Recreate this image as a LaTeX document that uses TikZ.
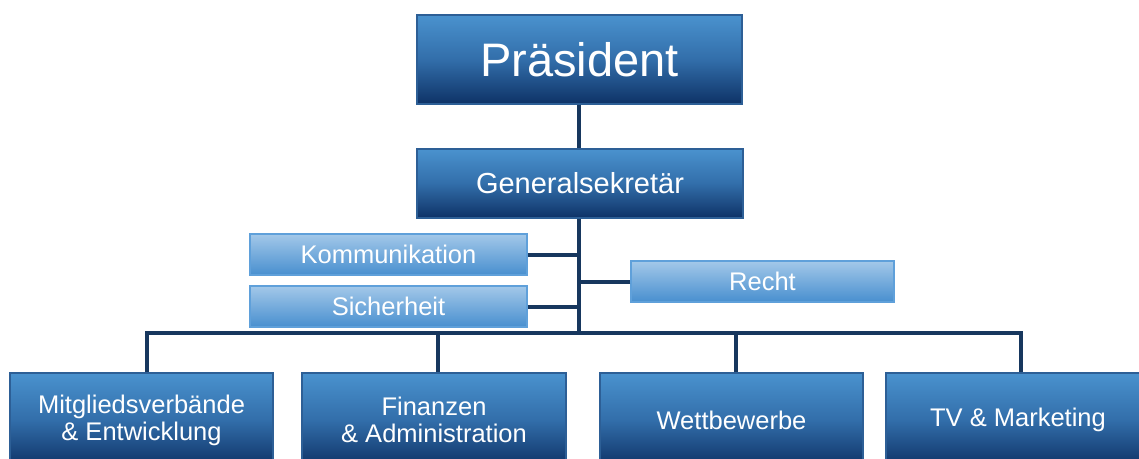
\documentclass[tikz,border=0pt]{standalone}
\usepackage{fontspec}
\setmainfont{Liberation Sans}
\definecolor{dtop}{RGB}{74,146,206}
\definecolor{dmid}{RGB}{50,110,170}
\definecolor{dbot}{RGB}{14,50,102}
\definecolor{dborder}{RGB}{45,95,150}
\definecolor{ltop}{RGB}{163,200,233}
\definecolor{lbot}{RGB}{72,143,207}
\definecolor{lborder}{RGB}{95,160,218}
\definecolor{linec}{RGB}{23,55,94}
\begin{document}
\begin{tikzpicture}[x=1pt,y=-1pt,
  darkbox/.style={draw=dborder,line width=1.2pt,top color=dtop,bottom color=dbot,middle color=dmid,
    text=white,inner sep=0pt,align=center,anchor=center},
  lightbox/.style={draw=lborder,line width=1.2pt,top color=ltop,bottom color=lbot,
    text=white,inner sep=0pt,align=center,anchor=center,minimum height=41pt,
    font=\fontsize{25.5}{27}\selectfont},
  conn/.style={draw=linec,line width=4pt}]
\useasboundingbox (0,0) rectangle (1139,458);
\clip (0,0) rectangle (1139,458);
\fill[white] (0,0) rectangle (1139,458);
% nodes
\node[darkbox,minimum width=325pt,minimum height=89pt,font=\fontsize{47}{50}\selectfont] (pres) at (579.5,59.5) {Präsident};
\node[darkbox,minimum width=326pt,minimum height=69pt,font=\fontsize{29}{31}\selectfont] (gen) at (580,183.5) {Generalsekretär};
\node[lightbox,minimum width=277pt] (kom) at (388.5,254.5) {Kommunikation};
\node[lightbox,minimum width=277pt] (sich) at (388.5,306.5) {Sicherheit};
\node[lightbox,minimum width=263pt] (recht) at (762.5,281.5) {Recht};
\coordinate (bar) at (579,333);
\coordinate (trunk) at (579,0);
% connectors
\draw[conn] (pres.south -| trunk) -- (gen.north -| trunk);
\draw[conn] (gen.south -| trunk) -- (bar);
\draw[conn] (kom.east) -- (kom.east -| trunk);
\draw[conn] (sich.east) -- (sich.east -| trunk);
\draw[conn] (recht.west) -- (recht.west -| trunk);
% bottom row
\node[darkbox,minimum width=263pt,minimum height=94pt,font=\fontsize{25.5}{27}\selectfont] (mit) at (141.5,420) {Mitgliedsverbände\\\& Entwicklung};
\node[darkbox,minimum width=264pt,minimum height=94pt,font=\fontsize{25.5}{27}\selectfont] (fin) at (434,420) {Finanzen\\\& Administration};
\node[darkbox,minimum width=263pt,minimum height=94pt,font=\fontsize{25.5}{27}\selectfont] (wett) at (731.5,420) {Wettbewerbe};
\node[darkbox,minimum width=264pt,minimum height=94pt,font=\fontsize{25.5}{27}\selectfont] (tv) at (1018,420) {TV \& Marketing};
\draw[conn,line join=miter] ([xshift=5.5pt]mit.north) |- (bar);
\draw[conn,line join=miter] ([xshift=3pt]tv.north) |- (bar);
\draw[conn] ([xshift=4pt]fin.north) -- ([xshift=4pt]fin.north |- bar);
\draw[conn] ([xshift=4.5pt]wett.north) -- ([xshift=4.5pt]wett.north |- bar);
\end{tikzpicture}
\end{document}
